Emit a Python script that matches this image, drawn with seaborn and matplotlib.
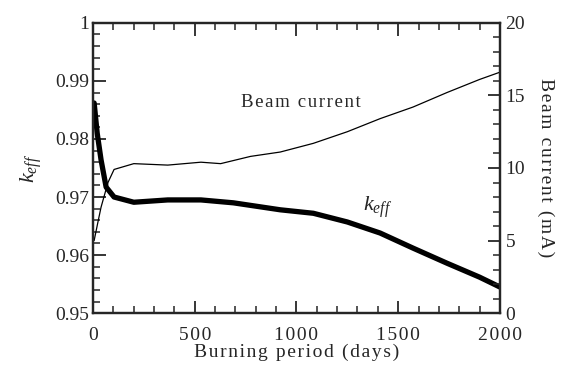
import matplotlib
matplotlib.use("Agg")
import matplotlib.pyplot as plt
import seaborn as sns
import pandas as pd
from matplotlib.ticker import MultipleLocator

sns.set_style("ticks")
plt.rcParams['font.family'] = ['Liberation Serif', 'DejaVu Serif']
plt.rcParams['mathtext.fontset'] = 'custom'
plt.rcParams['mathtext.it'] = 'Liberation Serif:italic'
plt.rcParams['mathtext.rm'] = 'Liberation Serif'

# dados
dias_keff = [5, 20, 39, 64, 103, 200, 367, 530, 690, 920, 1083, 1250, 1411, 1573, 1740, 1900, 2000]
keff = [0.9862, 0.9810, 0.9764, 0.9717, 0.9700, 0.9691, 0.9695, 0.9695, 0.9690, 0.9678,
        0.9672, 0.9657, 0.9638, 0.9612, 0.9586, 0.9562, 0.9545]

dias_feixe = [5, 24, 39, 73, 103, 200, 367, 530, 627, 774, 920, 1083, 1250, 1411, 1573, 1740, 1900, 2000]
corrente = [5.0, 6.3, 7.3, 9.0, 9.9, 10.3, 10.2, 10.4, 10.3, 10.8, 11.1, 11.7, 12.5, 13.4, 14.2,
            15.2, 16.1, 16.6]

df_k = pd.DataFrame({"dias": dias_keff, "keff": keff})
df_c = pd.DataFrame({"dias": dias_feixe, "corrente": corrente})


def espacar(texto):
    # espaçamento entre letras, como no original
    return "\u200a".join(texto)


fig = plt.figure(figsize=(5.61, 3.75), dpi=100)
ax = fig.add_axes([0.166, 0.165, 0.725, 0.774])
ax2 = ax.twinx()

sns.lineplot(data=df_k, x="dias", y="keff", ax=ax, color="black", linewidth=3.8)
sns.lineplot(data=df_c, x="dias", y="corrente", ax=ax2, color="black", linewidth=0.9)

ax.set_xlim(0, 2000)
ax.set_ylim(0.95, 1.0)
ax2.set_ylim(0, 20)

ax.xaxis.set_major_locator(MultipleLocator(500))
ax.xaxis.set_minor_locator(MultipleLocator(100))
ax.yaxis.set_minor_locator(MultipleLocator(0.002))
ax2.yaxis.set_major_locator(MultipleLocator(5))
ax2.yaxis.set_minor_locator(MultipleLocator(1))

ax.set_yticks([0.95, 0.96, 0.97, 0.98, 0.99, 1.0])
ax.set_yticklabels(["0.95", "0.96", "0.97", "0.98", "0.99", "1"])
ax.set_xticks([0, 500, 1000, 1500, 2000])
ax.set_xticklabels([espacar(s) for s in ["0", "500", "1000", "1500", "2000"]])

ax.tick_params(axis="x", which="both", direction="in", top=True, labelsize=14, pad=10)
ax.tick_params(axis="y", which="both", direction="in", right=False, labelsize=14, pad=3)
ax.tick_params(which="major", length=9, width=1.3)
ax.tick_params(which="minor", length=5, width=1.1)
ax2.tick_params(axis="y", which="both", direction="in", labelsize=14, pad=4)
ax2.tick_params(which="major", length=9, width=1.3)
ax2.tick_params(which="minor", length=5, width=1.1)

for a in (ax, ax2):
    for s in a.spines.values():
        s.set_linewidth(1.6)

ax.set_xlabel(espacar("Burning period (days)"), fontsize=14, labelpad=0)
ax.set_ylabel(r"$k_{eff}$", fontsize=16, labelpad=8)
ax2.set_ylabel(espacar("Beam current (mA)"), fontsize=14, rotation=270, labelpad=21)

ax.text(1020, 0.9862, espacar("Beam current"), fontsize=13.5, ha="center", va="center")
ax.text(1400, 0.9683, r"$k_{eff}$", fontsize=16, ha="center", va="center")

fig.savefig("out.png", dpi=100)
